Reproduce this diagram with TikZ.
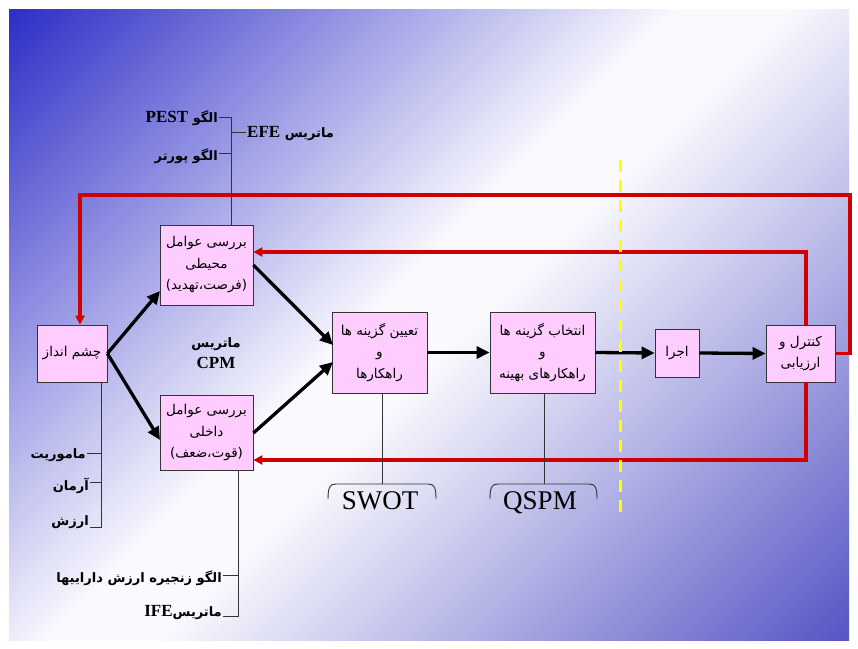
\documentclass[tikz,border=0pt]{standalone}
\usepackage{fontspec}
\setmainfont{Liberation Serif}
\newfontfamily\fa[Script=Arabic]{DejaVu Sans}
\TeXXeTstate=1
\usetikzlibrary{arrows.meta}
\definecolor{boxpink}{HTML}{FFCCFF}
\definecolor{redline}{HTML}{D00000}
\definecolor{bgA}{HTML}{3030C8}
\definecolor{bgB}{HTML}{5858C6}
\definecolor{bgM}{HTML}{FAFAFE}
\definecolor{dashyel}{HTML}{FFFF00}
\pgfdeclareverticalshading{slidebg}{100bp}{color(0bp)=(bgB); color(15bp)=(bgB); color(48bp)=(bgM); color(53bp)=(bgM); color(85bp)=(bgA); color(100bp)=(bgA)}
\newcommand\latb[1]{{\rmfamily\bfseries\fontsize{17}{20}\selectfont #1}}
\begin{document}
\begin{tikzpicture}[x=1pt,y=-1pt,
  box/.style={draw=black!80, fill=boxpink, line width=0.8pt, inner sep=0pt, align=center,
    font=\fa\fontsize{13.5}{21.5}\selectfont},
  blk/.style={line width=3.3pt, -{Triangle[length=13pt,width=12pt]}},
  redarr/.style={draw=redline, line width=3.6pt, -{Triangle[length=9pt,width=9pt]}},
  thin/.style={draw=black!80, line width=0.9pt},
  lbl/.style={font=\fa\bfseries\fontsize{13}{15}\selectfont, inner sep=1pt},
  big/.style={font=\rmfamily\fontsize{27}{30}\selectfont, inner sep=0pt}]
\useasboundingbox (0,0) rectangle (858,648);
\fill[white] (0,0) rectangle (858,648);
\shade[shading=slidebg, shading angle=45] (9,9) rectangle (849,640);
% boxes
\node[box, minimum width=70pt, minimum height=57pt] (chesm) at (72,353.5) {\beginR چشم انداز\endR};
\node[box, minimum width=93pt, minimum height=80pt] (env) at (206.5,265) {\beginR بررسی عوامل\endR\\\beginR محیطی\endR\\\beginR(فرصت،تهدید)\endR};
\node[box, minimum width=93pt, minimum height=75pt] (int) at (206.5,433) {\beginR بررسی عوامل\endR\\\beginR داخلی\endR\\\beginR(قوت،ضعف)\endR};
\node[box, minimum width=95pt, minimum height=81pt] (taein) at (379.5,352.5) {\beginR تعیین گزینه ها\endR\\و\\\beginR راهکارها\endR};
\node[box, minimum width=105pt, minimum height=81pt] (entek) at (542.5,352.5) {\beginR انتخاب گزینه ها\endR\\و\\\beginR راهکارهای بهینه\endR};
\node[box, minimum width=44pt, minimum height=48pt] (ejra) at (677,353) {\beginR اجرا\endR};
\node[box, minimum width=69pt, minimum height=57pt] (ctl) at (800.5,353.5) {\beginR کنترل و\endR\\\beginR ارزیابی\endR};
% CPM
\node[lbl, align=center] (cpm) at (216,353) {\beginR ماتریس\endR\\[6pt]\latb{CPM}};
% black arrows
\coordinate (envin) at (160,291);
\coordinate (intin) at (160,440);
\coordinate (tin1) at (333,345);
\coordinate (tin2) at (333,362);
\draw[blk] (chesm.east) -- (envin);
\draw[blk] (chesm.east) -- (intin);
\draw[blk] (env.east) -- (tin1);
\draw[blk] (int.east) -- (tin2);
\draw[blk] (taein.east) -- (entek.west);
\draw[blk] (entek.east) -- (ejra.west);
\draw[blk] (ejra.east) -- (ctl.west);
% red feedback lines
\coordinate (oR) at (850,195);
\coordinate (oL) at (80,195);
\coordinate (mR) at (806,252);
\coordinate (bR) at (806,460);
\draw[redarr] (ctl.east) -- (ctl.east -| oR) -- (oR) -- (oL) -- (oL |- chesm.north);
\draw[redarr] (mR |- ctl.north) -- (mR) -- (mR -| env.east);
\draw[redarr] (bR |- ctl.south) -- (bR) -- (bR -| int.east);
% yellow dashed line
\draw[dashyel, line width=3pt, dash pattern=on 12pt off 8pt] (620,160) -- (620,518);
% top tree (environment)
\coordinate (tt) at (231,117);
\coordinate (tp) at (231,153);
\coordinate (te) at (231,132);
\node[lbl, anchor=east] (pest) at (219,118) {\beginR الگو \beginL\latb{PEST}\endL\endR};
\node[lbl, anchor=east] (porter) at (219,156) {\beginR الگو پورتر\endR};
\node[lbl, anchor=west] (efe) at (246,134) {\beginR ماتریس \beginL\latb{EFE}\endL\endR};
\draw[thin] (env.north -| tt) -- (tt) -- (pest.east |- tt);
\draw[thin] (tp) -- (porter.east |- tp);
\draw[thin] (te) -- (efe.west |- te);
% vision tree
\coordinate (v0) at (101,527);
\coordinate (v1) at (101,453);
\coordinate (v2) at (101,482);
\node[lbl, anchor=east] (mam) at (87,455) {\beginR ماموریت\endR};
\node[lbl, anchor=east] (arman) at (90,486) {\beginR آرمان\endR};
\node[lbl, anchor=east] (arzesh) at (90,522) {\beginR ارزش\endR};
\draw[thin] (chesm.south -| v0) -- (v0) -- (v0 -| arzesh.east);
\draw[thin] (v1) -- (v1 -| mam.east);
\draw[thin] (v2) -- (v2 -| arman.east);
% internal tree
\coordinate (i0) at (238,616);
\coordinate (i1) at (238,575);
\node[lbl, anchor=east] (zanj) at (223,578) {\beginR الگو زنجیره ارزش داراییها\endR};
\node[lbl, anchor=east] (ife) at (223,613) {\beginR ماتریس\beginL\latb{IFE}\endL\endR};
\draw[thin] (int.south -| i0) -- (i0) -- (i0 -| ife.east);
\draw[thin] (i1) -- (i1 -| zanj.east);
% SWOT bracket
\coordinate (sw) at (382,484);
\draw[thin] (taein.south -| sw) -- (sw);
\draw[thin] (328,499) .. controls (328,487) and (330,484) .. (336,484) -- (428,484) .. controls (434,484) and (436,487) .. (436,499);
\node[big, anchor=base] (swot) at (380,509) {SWOT};
% QSPM bracket
\coordinate (qs) at (544,484);
\draw[thin] (entek.south -| qs) -- (qs);
\draw[thin] (490,499) .. controls (490,487) and (492,484) .. (498,484) -- (589,484) .. controls (595,484) and (597,487) .. (597,499);
\node[big, anchor=base] (qspm) at (540,509) {QSPM};
\end{tikzpicture}
\end{document}
